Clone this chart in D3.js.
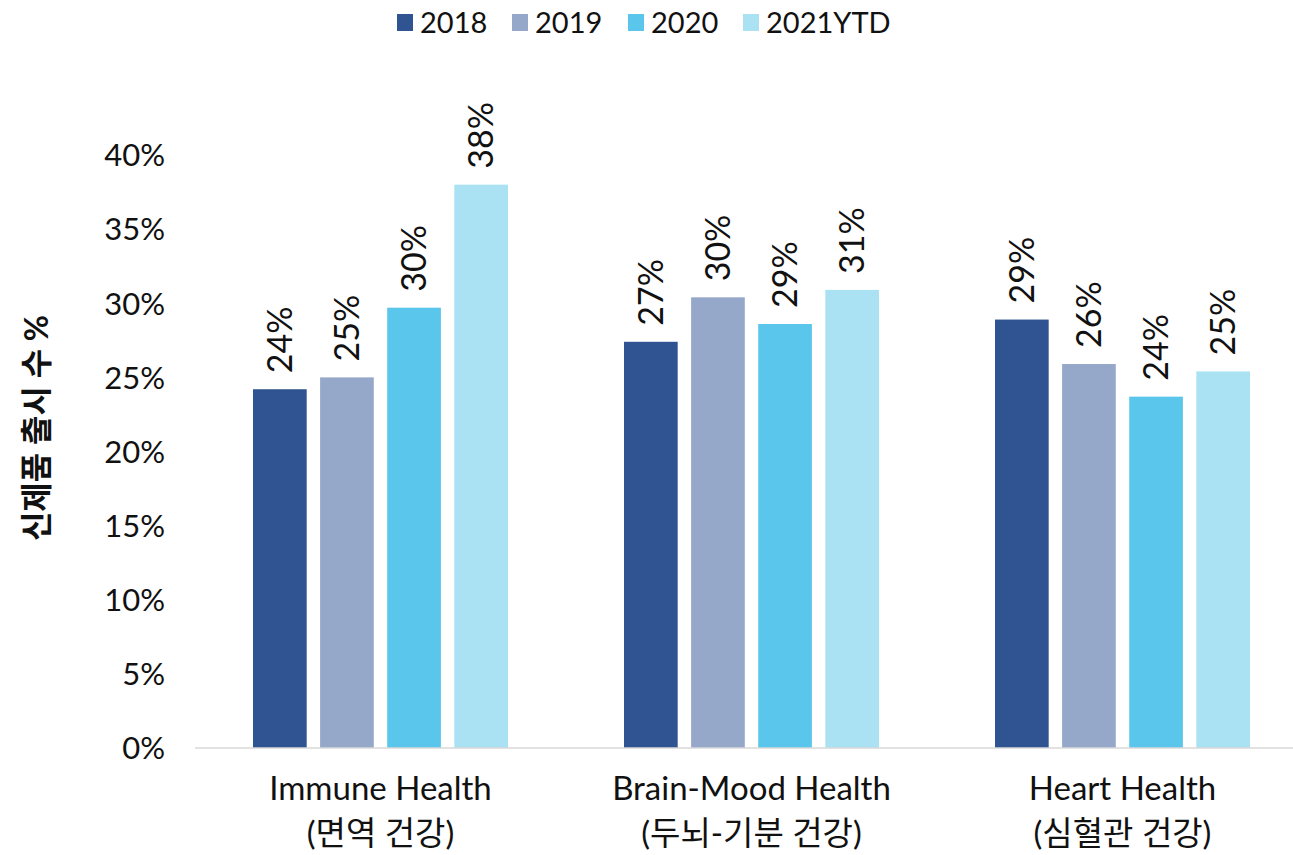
<!DOCTYPE html>
<html>
<head>
<meta charset="utf-8" />
<script src="https://cdn.jsdelivr.net/npm/d3@7"></script>
<style>
  body { margin: 0; background: #fff; }
  text { font-family: Lato, "Noto Sans CJK KR", sans-serif; fill: #111; }
</style>
</head>
<body>
<div id="chart"></div>
<script>
  var categories = ["Immune Health|(면역 건강)", "Brain-Mood Health|(두뇌-기분 건강)", "Heart Health|(심혈관 건강)"];
  var seriesNames = ["2018", "2019", "2020", "2021YTD"];
  var colors = ["#2F5491", "#95A8C9", "#5BC6EB", "#AAE2F3"];
  var v2018 = [0.242, 0.274, 0.289];
  var v2019 = [0.250, 0.304, 0.259];
  var v2020 = [0.297, 0.286, 0.237];
  var v2021 = [0.380, 0.309, 0.254];
  var yTicks = [0, 0.05, 0.1, 0.15, 0.2, 0.25, 0.3, 0.35, 0.4];

  var values = [v2018, v2019, v2020, v2021];
  var width = 1293, height = 855;

  var svg = d3.select("#chart").append("svg")
    .attr("width", width).attr("height", height);

  var x0 = d3.scaleBand().domain(d3.range(categories.length)).range([195, 1308]);
  var x1 = d3.scaleBand().domain(d3.range(seriesNames.length))
    .range([58, 58 + 255]).paddingInner(0.2);
  var y = d3.scaleLinear().domain([0, 0.4]).range([748, 155]);

  // y axis labels (no line)
  var yAxis = d3.axisLeft(y).tickValues(yTicks).tickFormat(d3.format(".0%")).tickSize(0).tickPadding(0);
  var ya = svg.append("g").attr("transform", "translate(165,0)").call(yAxis);
  ya.select(".domain").remove();
  ya.selectAll("text").style("font-size", "31px").attr("dy", "0.35em");

  // bars
  var groups = svg.append("g").selectAll("g")
    .data(categories).enter().append("g")
    .attr("transform", function (d, i) { return "translate(" + x0(i) + ",0)"; });

  groups.each(function (c, ci) {
    var g = d3.select(this);
    seriesNames.forEach(function (s, si) {
      var v = values[si][ci];
      g.append("rect")
        .attr("x", x1(si)).attr("width", x1.bandwidth())
        .attr("y", y(v)).attr("height", y(0) - y(v))
        .attr("fill", colors[si]);
      var cx = x1(si) + x1.bandwidth() / 2;
      g.append("text")
        .attr("transform", "translate(" + cx + "," + (y(v) - 16) + ") rotate(-90)")
        .attr("dy", "0.35em")
        .style("font-size", "34px")
        .text(Math.round(v * 100) + "%");
    });
  });

  // baseline
  svg.append("line")
    .attr("x1", 195).attr("x2", 1308)
    .attr("y1", y(0)).attr("y2", y(0))
    .attr("stroke", "#d9d9d9").attr("stroke-width", 1.5);

  // category labels
  var xAxis = svg.append("g");
  categories.forEach(function (c, i) {
    var parts = c.split("|");
    var cx = x0(i) + x0.bandwidth() / 2;
    parts.forEach(function (p, k) {
      xAxis.append("text")
        .attr("x", cx).attr("y", 800 + k * 45)
        .attr("text-anchor", "middle")
        .style("font-size", "33px")
        .text(p);
    });
  });

  // y title
  svg.append("text")
    .attr("transform", "translate(37,428) rotate(-90)")
    .attr("text-anchor", "middle")
    .attr("dy", "0.35em")
    .style("font-size", "32px").style("font-weight", "bold")
    .text("신제품 출시 수 %");

  // legend
  var legendX = [397, 512, 628, 743];
  var legend = svg.append("g");
  seriesNames.forEach(function (s, i) {
    legend.append("rect")
      .attr("x", legendX[i]).attr("y", 14).attr("width", 16).attr("height", 17)
      .attr("fill", colors[i]);
    legend.append("text")
      .attr("x", legendX[i] + 23).attr("y", 33)
      .style("font-size", "29px")
      .text(s);
  });
</script>
</body>
</html>
